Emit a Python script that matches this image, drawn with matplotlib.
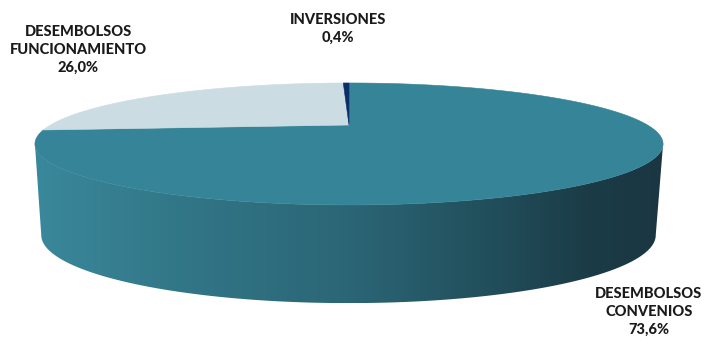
import numpy as np
import matplotlib
matplotlib.use("Agg")
import matplotlib.pyplot as plt
from matplotlib.patches import Polygon
from matplotlib.colors import LinearSegmentedColormap

# data
labels = ["DESEMBOLSOS\nCONVENIOS", "DESEMBOLSOS\nFUNCIONAMIENTO", "INVERSIONES"]
values = [73.6, 26.0, 0.4]
top_colors = ["#358497", "#cbdce3", "#0b2d6a"]

# label anchors (pixels) for each slice
label_pos = [(649, 312), (78, 50), (338, 29)]

# perspective pie geometry (pixel space): top face and bottom face
TOP = dict(xc=349.0, yc=125.0, s=298.5, k=55.1, p=0.311)
BOT = dict(xc=348.5, yc=214.0, s=292.0, k=61.4, p=0.311)


def project(t, g):
    u, v = np.cos(t), np.sin(t)
    d = 1 + g["p"] * v
    return g["xc"] + g["s"] * u / d, g["yc"] - g["k"] * v / d


fig = plt.figure(figsize=(7.04, 3.43), dpi=100)
ax = fig.add_axes([0, 0, 1, 1])
ax.set_xlim(0, 704)
ax.set_ylim(343, 0)
ax.axis("off")

# side wall: visible between the two silhouette tangents (sin t = -p)
p = TOP["p"]
t_left = np.pi + np.arcsin(p)
t_right = 2 * np.pi - np.arcsin(p)
ts = np.linspace(t_left, t_right, 300)
xt, yt = project(ts, TOP)
xb, yb = project(ts[::-1], BOT)
side_pts = np.column_stack([np.r_[xt, xb], np.r_[yt, yb]])
side = Polygon(side_pts, closed=True, facecolor="none", edgecolor="none")
ax.add_patch(side)

grad = LinearSegmentedColormap.from_list(
    "side",
    [(0.0, "#3a889b"), (0.25, "#317586"), (0.5, "#2b6676"),
     (0.72, "#224f5c"), (0.88, "#1b3c47"), (1.0, "#1a3642")])
x0, x1 = side_pts[:, 0].min(), side_pts[:, 0].max()
y0, y1 = side_pts[:, 1].min(), side_pts[:, 1].max()
im = ax.imshow(np.linspace(0, 1, 256)[None, :], cmap=grad, aspect="auto",
               extent=(x0, x1, y1, y0), interpolation="bilinear", zorder=1)
im.set_clip_path(side)

# top face slices, starting at 12 o'clock, clockwise
cx, cy = project(np.array([0.0]), dict(TOP, s=0.0, k=0.0))
cum = 0.0
for val, col in zip(values, top_colors):
    a0 = np.pi / 2 - np.deg2rad(cum * 3.6)
    a1 = np.pi / 2 - np.deg2rad((cum + val) * 3.6)
    tt = np.linspace(a0, a1, max(4, int(abs(a1 - a0) * 120)))
    px, py = project(tt, TOP)
    pts = np.column_stack([np.r_[cx, px], np.r_[cy, py]])
    ax.add_patch(Polygon(pts, closed=True, facecolor=col, edgecolor=col,
                         linewidth=0.4, zorder=2))
    cum += val

# labels
for lab, val, (lx, ly) in zip(labels, values, label_pos):
    txt = f"{lab}\n{val:.1f}%".replace(".", ",")
    ax.text(lx, ly, txt, ha="center", va="center", fontsize=10.5,
            fontweight=900, family="Lato", color="#1a1a1a",
            linespacing=1.35, zorder=3)

fig.savefig("out.png", dpi=100)
